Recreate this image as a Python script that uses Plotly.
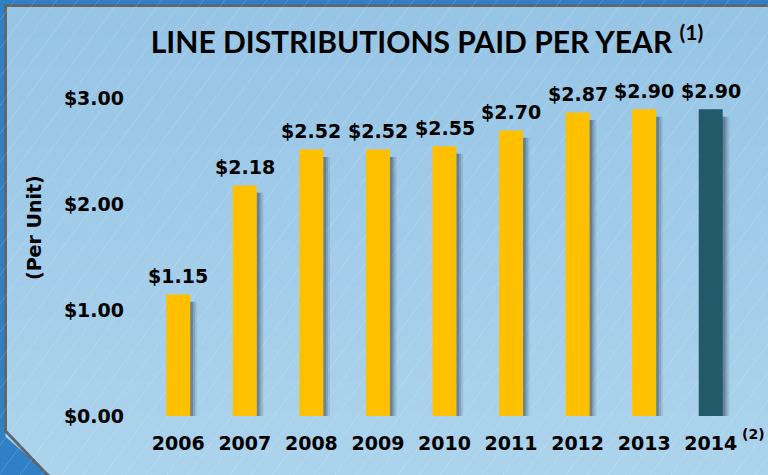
import plotly.graph_objects as go

# ---- data ----
years = ["2006", "2007", "2008", "2009", "2010", "2011", "2012", "2013", "2014"]
distributions = [1.15, 2.18, 2.52, 2.52, 2.55, 2.70, 2.87, 2.90, 2.90]
y_ticks = [0, 1, 2, 3]

# ---- style ----
W, H = 768, 475
ML, MR, MT, MB = 145, 24, 67, 59
YMAX = 3.3
yellow = "#FFC000"
teal = "#235A69"
bar_colors = [yellow] * (len(years) - 1) + [teal]
lab_font = dict(family="DejaVu Sans", size=19, color="#000000", weight="bold")
pw, ph = W - ML - MR, H - MT - MB


def px(x):
    return (x - ML) / pw


def py(y):
    return (H - MB - y) / ph


xs = list(range(len(years)))
fig = go.Figure()

# soft shadows
for off, op in [(0.1, 0.10), (0.07, 0.16), (0.04, 0.24)]:
    fig.add_trace(go.Bar(x=xs, y=[v - 0.04 for v in distributions], base=-0.03,
                         width=0.36, offset=-0.18 + off,
                         marker=dict(color=f"rgba(20,30,45,{op})", line_width=0),
                         hoverinfo="skip", showlegend=False, cliponaxis=False))

fig.add_trace(go.Bar(x=xs, y=distributions, width=0.36, offset=-0.18,
                     marker=dict(color=bar_colors, line_width=0),
                     showlegend=False, cliponaxis=False))

shapes = []
# panel gradient bands
c0 = (0x97, 0xC5, 0xE6)
c1 = (0xAC, 0xD3, 0xEC)
nb = 30
top, bot = 5.5, H
for i in range(nb):
    t = i / (nb - 1)
    col = "rgb(%d,%d,%d)" % tuple(round(a + (b - a) * t) for a, b in zip(c0, c1))
    y0 = top + (bot - top) * i / nb
    y1 = top + (bot - top) * (i + 1) / nb + 1
    shapes.append(dict(type="rect", xref="paper", yref="paper", layer="below",
                       x0=px(5.5), x1=px(W), y0=py(y0), y1=py(y1),
                       fillcolor=col, line_width=0))
# cut corner + border
outer = "#2F80C5"
shapes.append(dict(type="path", xref="paper", yref="paper", layer="below",
                   path=f"M{px(0)},{py(432)} L{px(50)},{py(H)} L{px(0)},{py(H)} Z",
                   fillcolor=outer, line_width=0))
shapes.append(dict(type="path", xref="paper", yref="paper", layer="below",
                   path=(f"M{px(W + 5)},{py(5.5)} L{px(5.5)},{py(5.5)} "
                         f"L{px(5.5)},{py(431)} L{px(49.5)},{py(H + 2)}"),
                   line=dict(color="#5C6771", width=3)))
# stripes
seg = []
slope = 1.35
c = -400
while c < W + 20:
    seg.append(f"M{px(c)},{py(H)} L{px(c + H / slope)},{py(0)}")
    c += 21
shapes.append(dict(type="path", xref="paper", yref="paper", layer="below",
                   path=" ".join(seg), line=dict(color="rgba(255,255,255,0.16)", width=1)))

annotations = []
for i, v in enumerate(distributions):
    annotations.append(dict(x=i, y=v, xref="x", yref="y", text=f"${v:.2f}",
                            showarrow=False, yanchor="bottom", yshift=5, font=lab_font))
annotations.append(dict(x=len(years) - 1, y=py(434), xref="x", yref="paper", text="(2)",
                        showarrow=False, xanchor="left", yanchor="middle", xshift=29,
                        font=dict(family="DejaVu Sans", size=14, color="#000", weight="bold")))
annotations.append(dict(x=px(34), y=py(228), xref="paper", yref="paper", text="(Per Unit)",
                        textangle=-90, showarrow=False, xanchor="center", yanchor="middle",
                        font=dict(family="DejaVu Sans", size=19, color="#000", weight="bold")))

fig.update_layout(
    width=W, height=H,
    margin=dict(l=ML, r=MR, t=MT, b=MB, pad=0),
    paper_bgcolor=outer, plot_bgcolor="rgba(0,0,0,0)",
    barmode="overlay",
    title=dict(text="LINE DISTRIBUTIONS PAID PER YEAR <sup>(1)</sup>",
               x=427 / W, xanchor="center", xref="container",
               y=1 - 42 / H, yanchor="middle", yref="container",
               font=dict(family="Lato", size=30, color="#000", weight="bold")),
    xaxis=dict(range=[-0.5, len(years) - 0.5], tickmode="array", tickvals=xs, ticktext=years,
               showgrid=False, zeroline=False, showline=False, ticks="",
               ticklabelstandoff=14,
               tickfont=lab_font),
    yaxis=dict(range=[0, YMAX], tickmode="array", tickvals=y_ticks, tickformat="$.2f",
               showgrid=False, zeroline=False, showline=False, ticks="",
               ticklabelstandoff=20,
               tickfont=lab_font),
    shapes=shapes, annotations=annotations,
)

fig.write_html("out.html")
